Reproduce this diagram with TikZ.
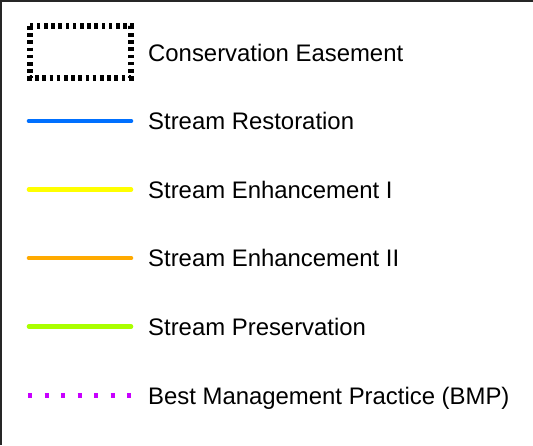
\documentclass[tikz,border=0pt]{standalone}
\usepackage{fontspec}
\setmainfont{Liberation Sans}
\definecolor{cblue}{RGB}{0,112,255}
\definecolor{cyellow}{RGB}{255,255,0}
\definecolor{corange}{RGB}{255,170,0}
\definecolor{cgreen}{RGB}{170,255,0}
\definecolor{cmagenta}{RGB}{200,0,255}
\begin{document}
\begin{tikzpicture}[x=1pt,y=-1pt,
  lbl/.style={anchor=base west, inner sep=0pt, font=\fontsize{23.9}{28}\selectfont},
  solidline/.style={line width=4.6pt, line cap=round},
  easement/.style={line width=6pt, dash pattern=on 3.6pt off 3.6pt},
  bmpline/.style={line width=4.4pt, cmagenta, dash pattern=on 4.4pt off 12.1pt}]
\useasboundingbox (0,0) rectangle (533,445);
\fill[white] (0,0) rectangle (533,445);
\draw[line width=2pt, black!85] (1,445) -- (1,1) -- (533,1);
% Conservation Easement
\draw[easement] (29.5,26) rectangle (130.5,78);
\node[lbl] (t1) at (148,61.5) {Conservation Easement};
% Stream Restoration
\coordinate (a2) at (29,121); \coordinate (b2) at (131,121);
\draw[solidline, cblue] (a2) -- (b2);
\node[lbl] (t2) at (148,129.6) {Stream Restoration};
% Stream Enhancement I
\coordinate (a3) at (29,189.5); \coordinate (b3) at (131,189.5);
\draw[solidline, cyellow] (a3) -- (b3);
\node[lbl] (t3) at (148,198.1) {Stream Enhancement I};
% Stream Enhancement II
\coordinate (a4) at (29,258); \coordinate (b4) at (131,258);
\draw[solidline, corange] (a4) -- (b4);
\node[lbl] (t4) at (148,266.6) {Stream Enhancement II};
% Stream Preservation
\coordinate (a5) at (29,326.5); \coordinate (b5) at (131,326.5);
\draw[solidline, cgreen] (a5) -- (b5);
\node[lbl] (t5) at (148,335.1) {Stream Preservation};
% BMP
\coordinate (a6) at (28,395.5); \coordinate (b6) at (132,395.5);
\draw[bmpline] (a6) -- (b6);
\node[lbl] (t6) at (148,404.1) {Best Management Practice (BMP)};
\end{tikzpicture}
\end{document}
